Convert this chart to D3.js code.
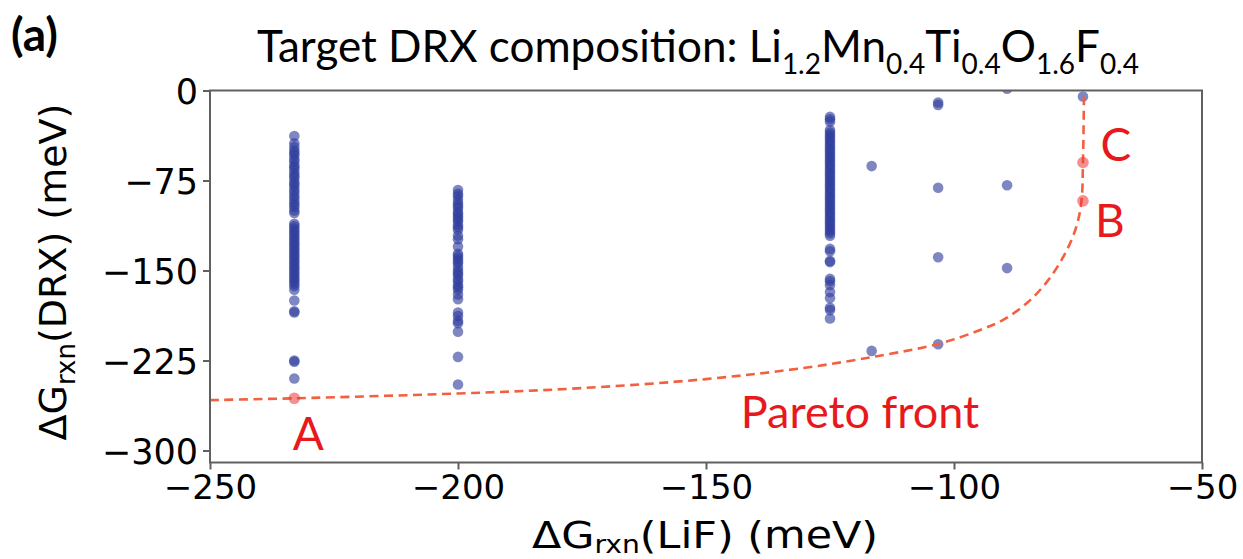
<!DOCTYPE html>
<html><head><meta charset="utf-8">
<script src="https://cdn.jsdelivr.net/npm/d3@7"></script>
<style>
html,body{margin:0;padding:0;background:#fff;}
svg{display:block;}
</style></head>
<body>
<svg id="chart" width="1243" height="559"></svg>
<script>
// ---- data ----
const xTicks = [-250, -200, -150, -100, -50];
const yTicks = [0, -75, -150, -225, -300];

const col1X = -233;
const col1Y = [-38, -44, -47, -50, -52, -54, -57, -59, -62, -64, -66, -69, -71, -73, -76, -78, -80, -83, -85, -88, -90, -93, -95, -97, -100, -102,
  -111, -113, -115, -117, -119, -121, -123, -125, -127, -129, -131, -133, -135, -137, -139, -141, -143, -145, -147, -149, -151, -153, -155, -157, -159, -161, -163, -166,
  -175, -184, -185, -225, -226, -240];

const col2X = -200;
const col2Y = [-83, -86, -88, -91, -94, -96, -98, -101, -103, -105, -107, -109, -112, -114, -116, -121, -124, -130, -136, -138, -140, -142, -144, -147, -150,
  -152, -154, -157, -159, -162, -164, -166, -170, -174, -185, -188, -192, -194, -201, -222, -245];

const col3X = -125;
const col3Y = [-22, -24, -26, -33, -35, -37, -39, -41, -43, -45, -47, -49, -51, -53, -55, -57, -59, -61, -63, -65, -67, -69, -71, -73, -75, -77, -79, -81,
  -83, -85, -87, -89, -91, -93, -95, -97, -99, -101, -103, -105, -107, -109, -111, -113, -115, -117, -119, -121, -132, -134, -142, -143, -157, -159,
  -162, -168, -173, -181, -183, -190];

const otherX = [-116.6, -116.6, -103.2, -103.2, -103.2, -103.2, -103.2, -89.3, -89.3, -89.3, -74];
const otherY = [-63, -217, -10, -12, -81, -139, -211.5, 1.5, -79, -148, -5];

const paretoX = [-250, -233, -200, -175, -150, -130, -115, -103, -95, -90, -85, -81, -77.5, -75.3, -74.3, -74, -73.8];
const paretoY = [-258, -256.5, -252.5, -248, -240.5, -231, -221, -211, -200, -191, -176, -158, -135, -113, -92, -60, -5];

const labelNames = ["A", "B", "C"];
const labelX = [-233, -74, -74];
const labelY = [-256.5, -92, -60];

// ---- chart ----
const svg = d3.select("#chart");
const L = 210, R = 1202, T = 90.5, B = 462.5;
const x = d3.scaleLinear().domain([-250, -50]).range([L, R]);
const y = d3.scaleLinear().domain([-310, 0]).range([B, T]);

svg.append("defs").append("clipPath").attr("id", "clip")
  .append("rect").attr("x", L).attr("y", T).attr("width", R - L).attr("height", B - T);

const plot = svg.append("g").attr("clip-path", "url(#clip)");

const blue = "#2f3d9c";
function pts(xs, ys) {
  return ys.map((v, i) => ({x: Array.isArray(xs) ? xs[i] : xs, y: v}));
}
const bluePts = [].concat(pts(col1X, col1Y), pts(col2X, col2Y), pts(col3X, col3Y), pts(otherX, otherY));

plot.selectAll("circle.b").data(bluePts).join("circle")
  .attr("class", "b")
  .attr("cx", d => x(d.x)).attr("cy", d => y(d.y)).attr("r", 5.3)
  .attr("fill", blue).attr("fill-opacity", 0.62);

const line = d3.line().x((d, i) => x(paretoX[i])).y((d, i) => y(paretoY[i])).curve(d3.curveCatmullRom.alpha(0.5));
plot.append("path").datum(paretoX)
  .attr("d", line).attr("fill", "none")
  .attr("stroke", "#f2603f").attr("stroke-width", 2.6).attr("stroke-dasharray", "9,5.5");

plot.selectAll("circle.r").data(labelNames).join("circle")
  .attr("class", "r")
  .attr("cx", (d, i) => x(labelX[i])).attr("cy", (d, i) => y(labelY[i])).attr("r", 5.8)
  .attr("fill", "#ee3535").attr("fill-opacity", 0.55);

// spines
const spine = "#606060";
svg.append("rect").attr("x", L).attr("y", T).attr("width", R - L).attr("height", B - T)
  .attr("fill", "none").attr("stroke", spine).attr("stroke-width", 2);

// axes
const fmt = d3.format("");
const xAxis = svg.append("g").attr("transform", `translate(0,${B})`)
  .call(d3.axisBottom(x).tickValues(xTicks).tickSize(7).tickSizeOuter(0).tickPadding(4).tickFormat(fmt));
const yAxis = svg.append("g").attr("transform", `translate(${L},0)`)
  .call(d3.axisLeft(y).tickValues(yTicks).tickSize(7).tickSizeOuter(0).tickPadding(5).tickFormat(fmt));
[xAxis, yAxis].forEach(a => {
  a.select(".domain").remove();
  a.selectAll(".tick line").attr("stroke", spine).attr("stroke-width", 2);
  a.selectAll(".tick text").attr("fill", "#000")
    .style("font-family", "DejaVu Sans").style("font-size", "34px");
});
xAxis.selectAll(".tick text").attr("dy", "0.75em");
yAxis.selectAll(".tick text").attr("dy", "0.36em").style("font-size", "35px");

// red labels
const red = "#e8191c";
const lf = "Lato, 'Open Sans', sans-serif";
const labelOffX = [14, 27, 33];
const labelOffY = [52, 36, -2];
svg.selectAll("text.lbl").data(labelNames).join("text")
  .attr("class", "lbl")
  .attr("x", (d, i) => x(labelX[i]) + labelOffX[i])
  .attr("y", (d, i) => y(labelY[i]) + labelOffY[i])
  .attr("text-anchor", "middle")
  .attr("fill", red).style("font-family", lf).style("font-size", "46px")
  .text(d => d);

svg.append("text").attr("x", 860).attr("y", 428).attr("text-anchor", "middle")
  .attr("fill", red).style("font-family", lf).style("font-size", "45px").text("Pareto front");

// title
const title = svg.append("text").attr("x", 698).attr("y", 62).attr("text-anchor", "middle")
  .style("font-family", lf).style("font-size", "44px").attr("fill", "#000");
const parts = [["Target DRX composition: Li", false], ["1.2", true], ["Mn", false], ["0.4", true], ["Ti", false], ["0.4", true], ["O", false], ["1.6", true], ["F", false], ["0.4", true]];
parts.forEach(([t, sub], i) => {
  const ts = title.append("tspan").text(t);
  if (sub) ts.attr("dy", 12).style("font-size", "28px");
  else if (i > 0) ts.attr("dy", -12);
});

// (a)
svg.append("text").attr("x", 11).attr("y", 51).style("font-family", lf).style("font-weight", "bold")
  .style("font-size", "46px").text("(a)");

// axis labels
const af = "'DejaVu Sans', sans-serif";
const xl = svg.append("text").attr("x", 705).attr("y", 548).attr("text-anchor", "middle")
  .attr("textLength", 346).attr("lengthAdjust", "spacingAndGlyphs")
  .style("font-family", af).style("font-size", "38px");
xl.append("tspan").text("ΔG");
xl.append("tspan").text("rxn").attr("dy", 5).style("font-size", "25px");
xl.append("tspan").text("(LiF) (meV)").attr("dy", -5);

const yl = svg.append("text").attr("transform", "translate(66,272) rotate(-90)").attr("text-anchor", "middle")
  .style("font-family", af).style("font-size", "38px");
yl.append("tspan").text("ΔG");
yl.append("tspan").text("rxn").attr("dy", 9).style("font-size", "26px");
yl.append("tspan").text("(DRX) (meV)").attr("dy", -9);
</script>
</body></html>
